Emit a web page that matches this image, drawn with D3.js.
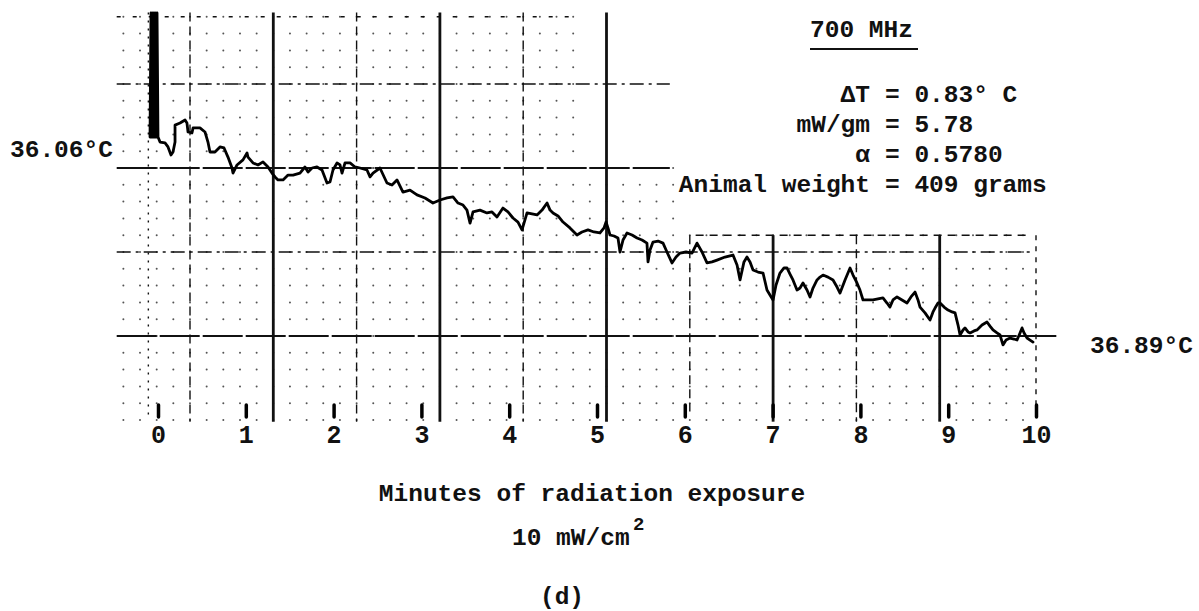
<!DOCTYPE html>
<html>
<head>
<meta charset="utf-8">
<script src="https://cdn.jsdelivr.net/npm/d3@7"></script>
<style>
  body { margin: 0; background: #fff; }
  svg { display: block; }
  text { font-family: "Liberation Mono", "DejaVu Sans Mono", monospace; font-weight: bold; fill: #111; }
</style>
</head>
<body>
<svg id="chart" width="1199" height="611"></svg>
<script>
// trace: minutes of exposure vs body temperature (deg C)
var minutes = [
  -0.091, -0.080, -0.068, -0.057, -0.046, -0.034, -0.023, -0.011, 0.000,
  0.023, 0.080, 0.114, 0.148, 0.171, 0.194, 0.194, 0.251, 0.308, 0.330, 0.342, 0.387, 0.399,
  0.478, 0.535, 0.569, 0.592, 0.649, 0.706, 0.752, 0.797, 0.843, 0.854, 0.900, 0.968,
  1.014, 1.025, 1.082, 1.139, 1.196, 1.253, 1.298, 1.333, 1.367, 1.424, 1.481, 1.538,
  1.617, 1.674, 1.709, 1.754, 1.811, 1.868, 1.925, 1.959, 1.993, 2.039, 2.073, 2.096,
  2.130, 2.187, 2.244, 2.301, 2.380, 2.415, 2.449, 2.528, 2.608, 2.665, 2.722, 2.790,
  2.870, 2.950, 3.041, 3.132, 3.212, 3.292, 3.360, 3.417, 3.474, 3.519, 3.554, 3.588,
  3.667, 3.747, 3.804, 3.861, 3.929, 3.986, 4.043, 4.100, 4.146, 4.203, 4.260, 4.317,
  4.374, 4.431, 4.465, 4.499, 4.556, 4.613, 4.692, 4.772, 4.829, 4.897, 4.966, 5.034,
  5.080, 5.103, 5.125, 5.148, 5.194, 5.239, 5.262, 5.296, 5.342, 5.399, 5.456, 5.513,
  5.569, 5.581, 5.604, 5.638, 5.695, 5.752, 5.797, 5.854, 5.900, 5.945, 6.014, 6.082,
  6.139, 6.196, 6.253, 6.310, 6.367, 6.458, 6.549, 6.595, 6.629, 6.674, 6.708, 6.743,
  6.777, 6.834, 6.891, 6.936, 6.970, 7.005, 7.039, 7.084, 7.130, 7.164, 7.198, 7.232,
  7.278, 7.312, 7.346, 7.392, 7.426, 7.460, 7.506, 7.540, 7.574, 7.631, 7.688, 7.734,
  7.768, 7.825, 7.882, 7.916, 7.961, 7.995, 8.030, 8.087, 8.144, 8.200, 8.257, 8.303,
  8.337, 8.371, 8.417, 8.474, 8.531, 8.576, 8.622, 8.656, 8.679, 8.736, 8.793, 8.827,
  8.850, 8.884, 8.907, 8.953, 8.998, 9.044, 9.078, 9.112, 9.135, 9.169, 9.191, 9.226,
  9.249, 9.294, 9.328, 9.385, 9.442, 9.476, 9.510, 9.556, 9.590, 9.624, 9.659, 9.704,
  9.750, 9.784, 9.818, 9.841, 9.864, 9.898, 9.932, 9.966
];
var tempC = [
  35.907, 35.294, 35.907, 35.294, 35.907, 35.294, 35.907, 35.294, 35.907,
  35.932, 35.936, 35.956, 35.996, 35.981, 35.932, 35.848, 35.838, 35.823, 35.838, 35.882, 35.887, 35.862,
  35.862, 35.882, 35.932, 35.981, 35.981, 35.956, 35.961, 36.006, 36.060, 36.085, 36.045, 36.020,
  35.986, 36.006, 36.035, 36.045, 36.030, 36.055, 36.085, 36.104, 36.119, 36.119, 36.095, 36.095,
  36.085, 36.055, 36.080, 36.060, 36.055, 36.070, 36.134, 36.129, 36.070, 36.035, 36.045, 36.085,
  36.035, 36.035, 36.055, 36.060, 36.070, 36.104, 36.085, 36.060, 36.134, 36.144, 36.119, 36.179,
  36.169, 36.193, 36.208, 36.233, 36.218, 36.208, 36.203, 36.233, 36.243, 36.268, 36.332, 36.277,
  36.268, 36.282, 36.277, 36.302, 36.258, 36.277, 36.307, 36.327, 36.366, 36.282, 36.287, 36.292,
  36.268, 36.233, 36.268, 36.282, 36.297, 36.327, 36.356, 36.391, 36.376, 36.366, 36.376, 36.381,
  36.356, 36.327, 36.356, 36.391, 36.396, 36.406, 36.475, 36.416, 36.381, 36.391, 36.406, 36.416,
  36.431, 36.524, 36.465, 36.426, 36.421, 36.431, 36.475, 36.529, 36.500, 36.480, 36.475, 36.480,
  36.431, 36.475, 36.529, 36.524, 36.515, 36.500, 36.490, 36.539, 36.613, 36.524, 36.500, 36.524,
  36.564, 36.574, 36.579, 36.663, 36.687, 36.712, 36.638, 36.579, 36.554, 36.554, 36.584, 36.613,
  36.663, 36.653, 36.628, 36.663, 36.697, 36.653, 36.613, 36.599, 36.589, 36.599, 36.613, 36.648,
  36.678, 36.613, 36.554, 36.589, 36.628, 36.663, 36.712, 36.712, 36.712, 36.707, 36.702, 36.727,
  36.747, 36.712, 36.697, 36.712, 36.727, 36.697, 36.673, 36.712, 36.747, 36.776, 36.811, 36.771,
  36.752, 36.727, 36.727, 36.747, 36.762, 36.771, 36.776, 36.836, 36.885, 36.860, 36.850, 36.870,
  36.875, 36.865, 36.860, 36.836, 36.821, 36.841, 36.860, 36.875, 36.885, 36.934, 36.910, 36.900,
  36.905, 36.910, 36.875, 36.850, 36.875, 36.900, 36.910, 36.920
];

var tickMinutes = [0, 1, 2, 3, 4, 5, 6, 7, 8, 9, 10];
var refTemps = [36.06, 36.89];
var refLabels = ["36.06°C", "36.89°C"];
var statNames = ["ΔT", "mW/gm", "α", "Animal weight"];
var statValues = ["= 0.83° C", "= 5.78", "= 0.5780", "= 409 grams"];
var title = "700 MHz";
var xLabel = "Minutes of radiation exposure";
var powerLabel = "10 mW/cm";
var panelLabel = "(d)";

var svg = d3.select("#chart");

var x = d3.scaleLinear().domain([0, 10]).range([158, 1036]);
var y = d3.scaleLinear().domain([36.06, 36.89]).range([168, 336]);

// chart-paper divisions (one unit = one heavy grid square)
var px = d3.scaleLinear().domain([0, 1]).range([190, 273.3]);
var py = d3.scaleLinear().domain([0, 1]).range([168, 252]);

var grid = svg.append("g").attr("class", "paper");

// minor dots, three blocks of the paper that survived the cut
var blocks = [
  { c0: -0.8, c1: 4.6, r0: -1.8, r1: 0 },
  { c0: -0.8, c1: 5.8, r0: 0, r1: 3 },
  { c0: 6, c1: 10, r0: 0.8, r1: 3 }
];
var dots = [];
blocks.forEach(function(b) {
  for (var c = b.c0; c <= b.c1 + 1e-6; c += 0.2) {
    for (var r = b.r0; r <= b.r1 + 1e-6; r += 0.2) {
      dots.push([c, r]);
    }
  }
});
grid.selectAll(".dot")
    .data(dots)
    .enter().append("circle")
    .attr("class", "dot")
    .attr("cx", d => px(d[0]))
    .attr("cy", d => py(d[1]))
    .attr("r", 1)
    .style("fill", "#555");

// horizontal rules
var hRules = [
  { r: -1.8, c0: -0.88, c1: 4.6, dash: "4,12", w: 1.5 },
  { r: -1, c0: -0.88, c1: 5.76, dash: "14,5,3,5", w: 1.6 },
  { r: 0, c0: -0.88, c1: 5.76, dash: "40,3", w: 2.2 },
  { r: 0.8, c0: 6.07, c1: 10.1, dash: "8,6", w: 1.4 },
  { r: 1, c0: -0.88, c1: 10.1, dash: "14,5,3,5", w: 1.6 },
  { r: 2, c0: -0.88, c1: 10.4, dash: "40,3", w: 2.2 }
];
grid.selectAll(".hrule")
    .data(hRules)
    .enter().append("line")
    .attr("class", "hrule")
    .attr("x1", d => px(d.c0))
    .attr("x2", d => px(d.c1))
    .attr("y1", d => py(d.r))
    .attr("y2", d => py(d.r))
    .style("stroke", "#111")
    .style("stroke-width", d => d.w)
    .style("stroke-dasharray", d => d.dash);

// vertical rules
var vRules = [
  { c: -0.5, r0: -1.85, r1: 2.95, heavy: false, dash: "2,6" },
  { c: 0, r0: -1.85, r1: 3.02, heavy: false, dash: "9,5" },
  { c: 1, r0: -1.85, r1: 3.02, heavy: true },
  { c: 2, r0: -1.85, r1: 3.02, heavy: false, dash: "9,5" },
  { c: 3, r0: -1.85, r1: 3.02, heavy: true },
  { c: 4, r0: -1.85, r1: 3.02, heavy: false, dash: "9,5" },
  { c: 5, r0: -1.85, r1: 3.02, heavy: true },
  { c: 6, r0: 0.8, r1: 2.9, heavy: false, dash: "9,5" },
  { c: 7, r0: 0.8, r1: 3.02, heavy: true },
  { c: 8, r0: 0.8, r1: 3.02, heavy: false, dash: "9,5" },
  { c: 9, r0: 0.8, r1: 3.02, heavy: true }
];
grid.selectAll(".vrule")
    .data(vRules)
    .enter().append("line")
    .attr("class", "vrule")
    .attr("x1", d => px(d.c))
    .attr("x2", d => px(d.c))
    .attr("y1", d => py(d.r0))
    .attr("y2", d => py(d.r1))
    .style("stroke", "#111")
    .style("stroke-width", d => d.heavy ? 2.8 : 1.4)
    .style("stroke-dasharray", d => d.heavy ? null : d.dash);

// end-of-run marker at 10 minutes
grid.append("line")
    .attr("x1", x(10)).attr("x2", x(10))
    .attr("y1", py(0.8)).attr("y2", 405)
    .style("stroke", "#111")
    .style("stroke-width", 1.4)
    .style("stroke-dasharray", "5,6");

// temperature trace
var trace = minutes.map((m, i) => ({ t: m, temp: tempC[i] }));
var line = d3.line()
    .x(d => x(d.t))
    .y(d => y(d.temp));

svg.append("path")
    .datum(trace)
    .attr("d", line)
    .style("fill", "none")
    .style("stroke", "#000")
    .style("stroke-width", 2.8)
    .style("stroke-linejoin", "round")
    .style("stroke-linecap", "round");

// minute axis: short pen marks with numbers underneath
var axis = svg.append("g")
    .attr("transform", "translate(0,405)")
    .call(d3.axisBottom(x).tickValues(tickMinutes).tickSize(12).tickPadding(8).tickFormat(d3.format("d")));
axis.select(".domain").remove();
axis.selectAll(".tick line")
    .style("stroke", "#000")
    .style("stroke-width", 3.5)
    .style("stroke-linecap", "round");
axis.selectAll(".tick text")
    .style("font-family", "'Liberation Mono', monospace")
    .style("font-weight", "bold")
    .style("font-size", "25px")
    .style("fill", "#111");

// reference temperatures
svg.append("text")
    .attr("x", 10)
    .attr("y", y(refTemps[0]) - 11)
    .style("font-size", "24.5px")
    .text(refLabels[0]);

svg.append("text")
    .attr("x", 1090)
    .attr("y", y(refTemps[1]) + 17)
    .style("font-size", "24.5px")
    .text(refLabels[1]);

// frequency heading
svg.append("text")
    .attr("x", 810)
    .attr("y", 37)
    .style("font-size", "24.5px")
    .text(title);
svg.append("line")
    .attr("x1", 810).attr("x2", 918)
    .attr("y1", 49).attr("y2", 49)
    .style("stroke", "#111")
    .style("stroke-width", 2);

// exposure figures, lined up on the "=" signs
statNames.forEach(function(name, i) {
    svg.append("text")
        .attr("x", 870)
        .attr("y", 102 + i * 30)
        .attr("text-anchor", "end")
        .style("font-size", "24.5px")
        .text(name);
    svg.append("text")
        .attr("x", 885)
        .attr("y", 102 + i * 30)
        .style("font-size", "24.5px")
        .text(statValues[i]);
});

// axis titles
svg.append("text")
    .attr("x", 592)
    .attr("y", 501)
    .attr("text-anchor", "middle")
    .style("font-size", "24.5px")
    .text(xLabel);

svg.append("text")
    .attr("x", 512)
    .attr("y", 545)
    .style("font-size", "24.5px")
    .text(powerLabel);
svg.append("text")
    .attr("x", 633)
    .attr("y", 530)
    .style("font-size", "19px")
    .text("2");

svg.append("text")
    .attr("x", 562)
    .attr("y", 604)
    .attr("text-anchor", "middle")
    .style("font-size", "24.5px")
    .text(panelLabel);
</script>
</body>
</html>
